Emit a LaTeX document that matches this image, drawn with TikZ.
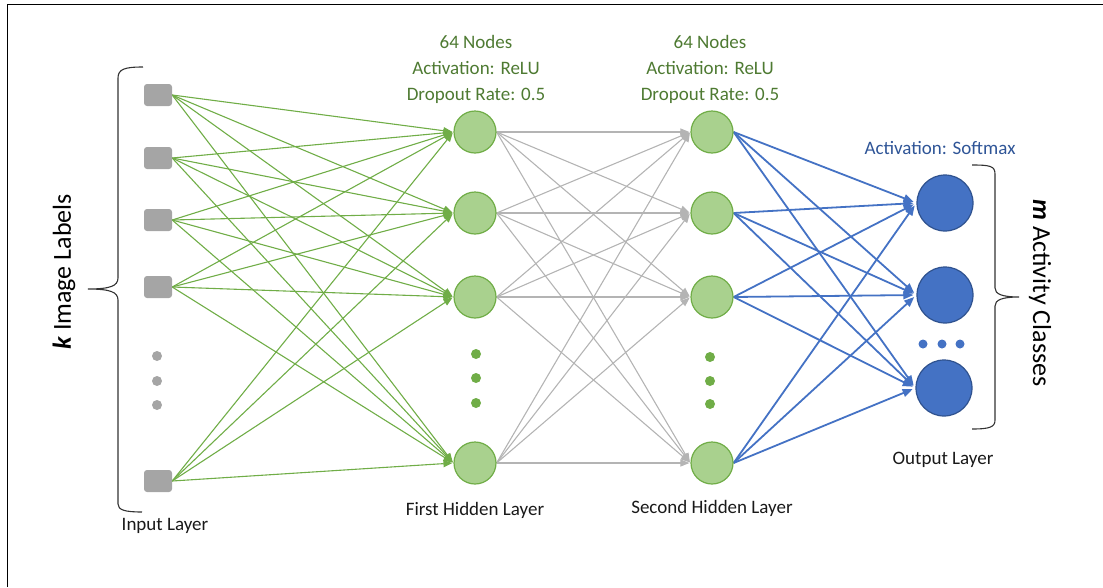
\documentclass[tikz,border=0pt]{standalone}
\usepackage{fontspec}
\setmainfont{Carlito}
\usetikzlibrary{arrows.meta,backgrounds}
\definecolor{ggreen}{RGB}{112,173,71}
\definecolor{lgreen}{RGB}{169,209,142}
\definecolor{tgreen}{RGB}{78,122,50}
\definecolor{nblue}{RGB}{68,114,196}
\definecolor{dblue}{RGB}{47,82,143}
\definecolor{tblue}{RGB}{47,85,151}
\definecolor{sgray}{RGB}{165,165,165}
\definecolor{lgray}{RGB}{180,180,180}
\begin{document}
\begin{tikzpicture}[x=1pt,y=-1pt,
  inbox/.style={draw=none,fill=sgray,rounded corners=3pt,minimum width=28pt,minimum height=22pt,inner sep=0pt},
  hid/.style={circle,draw=ggreen,fill=lgreen,line width=1.2pt,minimum size=42pt,inner sep=0pt},
  outn/.style={circle,draw=dblue,fill=nblue,line width=1.2pt,minimum size=56pt,inner sep=0pt},
  dotn/.style={circle,draw=none,minimum size=10pt,inner sep=0pt},
  gtxt/.style={text=tgreen,font=\fontsize{19}{26}\selectfont,align=center,inner sep=0pt},
  btxt/.style={text=tblue,font=\fontsize{19}{23}\selectfont,inner sep=0pt},
  ltxt/.style={text=black!90,font=\fontsize{19}{23}\selectfont,inner sep=0pt},
  sidetxt/.style={text=black,font=\fontsize{26}{30}\selectfont,inner sep=0pt},
  garr/.style={draw=ggreen,line width=1.1pt,-{Triangle[length=9pt,width=7pt]},shorten >=1pt},
  yarr/.style={draw=lgray,line width=1.1pt,-{Triangle[length=9pt,width=7pt]},shorten >=1pt},
  barr/.style={draw=nblue,line width=1.8pt,-{Triangle[length=10pt,width=8pt]},shorten >=3pt},
  brace/.style={draw=black!80,line width=1.1pt}
]
\useasboundingbox (0,0) rectangle (1103,587);
% frame
\draw[line width=1.5pt] (7.5,587) -- (7.5,4.5) -- (1103,4.5);

% input layer
\node[inbox] (i1) at (158,95) {};
\node[inbox] (i2) at (158,158) {};
\node[inbox] (i3) at (158,220) {};
\node[inbox] (i4) at (158,287) {};
\node[inbox] (i5) at (158,481) {};
\node[dotn,fill=sgray] (gd1) at (157,356) {};
\node[dotn,fill=sgray] (gd2) at (157,381) {};
\node[dotn,fill=sgray] (gd3) at (157,405) {};

% first hidden layer
\node[hid] (a1) at (475,132) {};
\node[hid] (a2) at (475,213) {};
\node[hid] (a3) at (475,297) {};
\node[hid] (a4) at (475,463) {};
\node[dotn,fill=ggreen] (ad1) at (476,354) {};
\node[dotn,fill=ggreen] (ad2) at (476,378) {};
\node[dotn,fill=ggreen] (ad3) at (476,403) {};

% second hidden layer
\node[hid] (b1) at (712,132) {};
\node[hid] (b2) at (712,213) {};
\node[hid] (b3) at (712,297) {};
\node[hid] (b4) at (712,463) {};
\node[dotn,fill=ggreen] (bd1) at (710,357) {};
\node[dotn,fill=ggreen] (bd2) at (710,381) {};
\node[dotn,fill=ggreen] (bd3) at (710,404) {};

% output layer
\node[outn] (o1) at (945,203) {};
\node[outn] (o2) at (945,295) {};
\node[outn] (o3) at (944,388) {};
\node[dotn,fill=nblue,minimum size=9pt] (od1) at (923,344) {};
\node[dotn,fill=nblue,minimum size=9pt] (od2) at (942,344) {};
\node[dotn,fill=nblue,minimum size=9pt] (od3) at (960,344) {};

% connectors
\begin{pgfonlayer}{background}
\foreach \s in {i1,i2,i3,i4,i5}
  \foreach \t in {a1,a2,a3,a4}
    \draw[garr] (\s.east) -- (\t.west);
\foreach \s in {a1,a2,a3,a4}
  \foreach \t in {b1,b2,b3,b4}
    \draw[yarr] (\s.east) -- (\t.west);
\foreach \s in {b1,b2,b3,b4}
  \foreach \t in {o1,o2,o3}
    \draw[barr] (\s.east) -- (\t.west);
\end{pgfonlayer}

% texts
\node[gtxt] (t1) at (476,69) {64 Nodes\\Activation: ReLU\\Dropout Rate: 0.5};
\node[gtxt] (t2) at (710,69) {64 Nodes\\Activation: ReLU\\Dropout Rate: 0.5};
\node[btxt] (t3) at (940,148) {Activation: Softmax};
\node[ltxt] (l1) at (165,526) {Input Layer};
\node[ltxt] (l2) at (475,510) {First Hidden Layer};
\node[ltxt] (l3) at (712,508) {Second Hidden Layer};
\node[ltxt] (l4) at (943,460) {Output Layer};
\node[sidetxt,rotate=90] (kl) at (64,272) {\textbf{\textit{k}} Image Labels};
\node[sidetxt,rotate=-90] (ml) at (1040,293) {\textbf{\textit{m}} Activity Classes};

% braces
\draw[brace] (143,67) .. controls (125,67) and (118,69) .. (118,78) -- (118,278)
  .. controls (118,286) and (110,289) .. (88,289)
  .. controls (110,289) and (118,292) .. (118,300) -- (118,504)
  .. controls (118,510) and (125,512) .. (142,512);
\draw[brace] (972,165) .. controls (990,165) and (995,166) .. (995,174) -- (995,288)
  .. controls (995,294) and (1002,297) .. (1019,297)
  .. controls (1002,297) and (995,300) .. (995,306) -- (995,420)
  .. controls (995,427) and (990,429) .. (972,429);
\end{tikzpicture}
\end{document}
